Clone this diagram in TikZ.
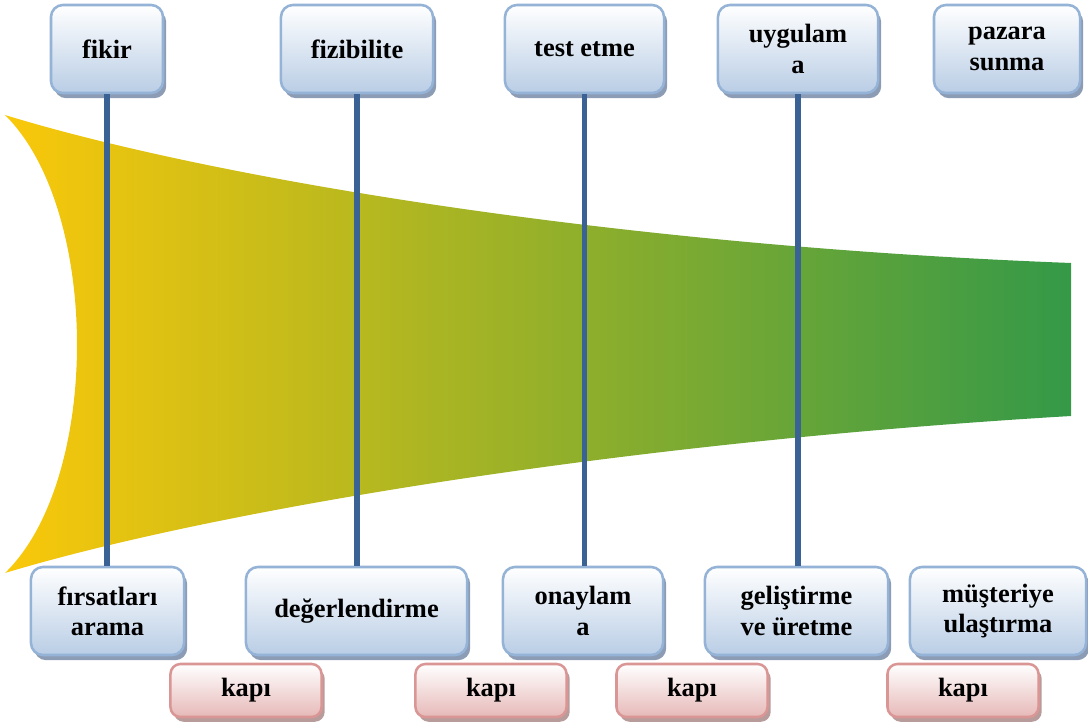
\documentclass[tikz,border=0pt]{standalone}
\usepackage{fontspec}
\setmainfont{Liberation Serif}
\usetikzlibrary{shadows}
\definecolor{funnelyellow}{HTML}{FAC80A}
\definecolor{funnelolive}{HTML}{B5B53A}
\definecolor{funnelgreen}{HTML}{349948}
\definecolor{stemblue}{HTML}{3B6294}
\definecolor{stageedge}{HTML}{95B3D7}
\definecolor{stagefill}{HTML}{B9CDE5}
\definecolor{stageshadow}{HTML}{8C9CB4}
\definecolor{gateedge}{HTML}{D99694}
\definecolor{gatefill}{HTML}{E6B9B8}
\definecolor{gateshadow}{HTML}{B89C9C}

\begin{document}
\begin{tikzpicture}[
  x=0.025cm, y=-0.025cm,
  font=\fontsize{18.8}{21.5}\selectfont\bfseries,
  stagebox/.style={rounded corners=3mm, line width=1.8pt, draw=stageedge,
    top color=white, bottom color=stagefill, align=center, inner sep=1mm,
    minimum height=2.2cm,
    drop shadow={shadow xshift=0.8mm, shadow yshift=-1.3mm, fill=stageshadow, opacity=1}},
  gatebox/.style={rounded corners=2.5mm, line width=1.8pt, draw=gateedge,
    top color=white, bottom color=gatefill, align=center, inner sep=1mm,
    minimum width=3.775cm, minimum height=1.325cm,
    drop shadow={shadow xshift=0.8mm, shadow yshift=-1.2mm, fill=gateshadow, opacity=1}},
  stem/.style={line width=4.2pt, draw=stemblue}
]
\useasboundingbox (0,0) rectangle (1088,728);

% funnel
\path[left color=funnelyellow, middle color=funnelolive, right color=funnelgreen]
  (5,115) .. controls (200,175) and (600,245) .. (1071,263)
  -- (1071,416)
  .. controls (600,444) and (200,514) .. (5,573)
  .. controls (101,480) and (101,210) .. (5,115) -- cycle;

% phases
\node[stagebox, minimum width=2.8cm]   (fikir)  at (107,49)  {fikir};
\node[stagebox, minimum width=3.8cm]   (fizib)  at (357,49)  {fizibilite};
\node[stagebox, minimum width=3.975cm] (test)   at (584.5,49) {test etme};
\node[stagebox, minimum width=4cm]     (uygul)  at (798,49)  {uygulam\\a};
\node[stagebox, minimum width=3.65cm]  (pazar)  at (1007,49) {pazara\\sunma};

% activities
\node[stagebox, minimum width=3.825cm] (firsat) at (107.5,611) {fırsatları\\arama};
\node[stagebox, minimum width=5.525cm] (deger)  at (356.5,611) {değerlendirme};
\node[stagebox, minimum width=4cm]     (onay)   at (583,611)   {onaylam\\a};
\node[stagebox, minimum width=4.575cm] (gelis)  at (796.5,611) {geliştirme\\ve üretme};
\node[stagebox, minimum width=4.4cm]   (muster) at (998,611)   {müşteriye\\ulaştırma};

% gates
\node[gatebox] (kapi1) at (246,690.5) {kapı};
\node[gatebox] (kapi2) at (491,690.5) {kapı};
\node[gatebox] (kapi3) at (692,690.5) {kapı};
\node[gatebox] (kapi4) at (963,690.5) {kapı};

\draw[stem] (fikir.south) -- (fikir.south |- firsat.north);
\draw[stem] (fizib.south) -- (fizib.south |- deger.north);
\draw[stem] (test.south) -- (test.south |- onay.north);
\draw[stem] (uygul.south) -- (uygul.south |- gelis.north);
\end{tikzpicture}
\end{document}
